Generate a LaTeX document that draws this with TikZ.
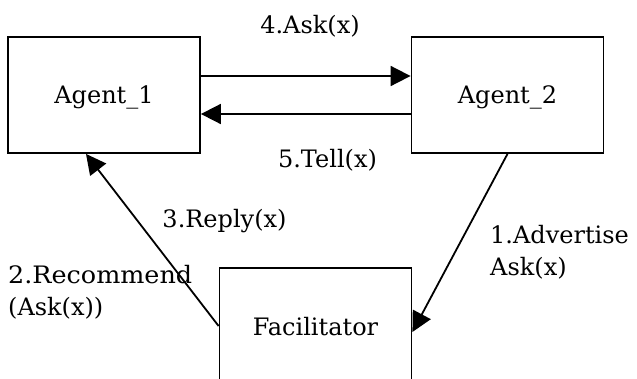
\documentclass[tikz,border=0pt]{standalone}
\usepackage{fontspec}
\setmainfont{DejaVu Serif}
\usetikzlibrary{arrows.meta}
\begin{document}
\begin{tikzpicture}[x=1pt, y={(0pt,-1pt)},
  agentbox/.style={draw, line width=1.8pt, minimum width=192pt, minimum height=116pt,
    inner sep=0pt, text depth=0pt, font=\fontsize{24}{28}\selectfont},
  msg/.style={font=\fontsize{24}{28}\selectfont, inner sep=0pt},
  flow/.style={line width=1.8pt, -{Triangle[length=20pt,width=20pt]}}]
  \useasboundingbox (0,0) rectangle (637,378);
  \clip (0,0) rectangle (637,378);

  % the three parties
  \node[agentbox] (a1) at (104,95) {Agent\_1};
  \node[agentbox] (a2) at (507.5,95) {Agent\_2};
  \node[agentbox] (fac) at (315.5,326) {Facilitator};

  % messages between the agents
  \draw[flow] ([yshift=19pt]a1.east) -- ([yshift=19pt]a2.west);
  \draw[flow] ([yshift=-19pt]a2.west) -- ([yshift=-19pt]a1.east);
  \draw[flow] (a2.south) -- ([yshift=-6pt]fac.east);
  \draw[flow] (fac.west) -- ([xshift=-18pt]a1.south);

  % message labels
  \node[msg, anchor=base] (ask) at (310,33) {4.Ask(x)};
  \node[msg, anchor=base] (tell) at (327.5,167) {5.Tell(x)};
  \node[msg, anchor=base] (reply) at (224.5,227) {3.Reply(x)};
  \node[msg, anchor=base west, xscale=1.06] (rec1) at (8,283) {2.Recommend};
  \node[msg, anchor=base west] (rec2) at (8,315) {(Ask(x))};
  \node[msg, anchor=base west] (adv1) at (490,243) {1.Advertise};
  \node[msg, anchor=base west] (adv2) at (490,275) {Ask(x)};
\end{tikzpicture}
\end{document}
